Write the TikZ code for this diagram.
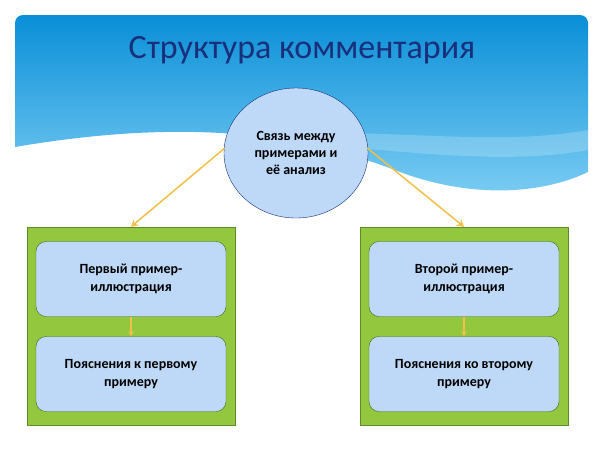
\documentclass[tikz,border=0pt]{standalone}
\usepackage{fontspec}
\setmainfont{Carlito}
\usetikzlibrary{positioning, shapes.geometric, arrows.meta}
\definecolor{bandtop}{HTML}{0A8FD8}
\definecolor{bandlow}{HTML}{7CCDF3}
\definecolor{titleblue}{HTML}{1A2F7A}
\definecolor{paleblue}{HTML}{BDD9F7}
\definecolor{leaf}{HTML}{93C83E}
\definecolor{leafdark}{HTML}{5E8A2A}
\definecolor{amber}{HTML}{F2C04A}

\begin{document}
\begin{tikzpicture}[x=1pt, y=-1pt,
    hub/.style={ellipse, draw=titleblue, fill=paleblue, minimum width=144pt, minimum height=130pt, inner sep=1pt, align=center, font=\bfseries\fontsize{14}{17}\selectfont},
    panel/.style={draw=leafdark, fill=leaf, minimum width=208pt, minimum height=198pt},
    card/.style={draw=leafdark!70!black, fill=paleblue, rounded corners=10pt, minimum width=190pt, minimum height=75pt, align=center, font=\bfseries\fontsize{14}{18}\selectfont},
    link/.style={amber, line width=1.5pt, -{Stealth[length=7pt, width=8pt]}}]

        % page size
        \useasboundingbox (0,0) rectangle (604,453);
        \fill[white] (0,0) rectangle (604,453);

        % header band with the wave
        \shade[top color=bandtop, bottom color=bandlow]
            (15,25) [rounded corners=8pt] -- (15,15) -- (588,15) [sharp corners] -- (588,172)
            .. controls (540,195) and (470,198) .. (400,172)
            .. controls (330,145) and (220,112) .. (15,147) -- cycle;
        \fill[white, opacity=0.2] (200,140) .. controls (350,120) and (480,150) .. (588,130)
            -- (588,150) .. controls (480,170) and (350,140) .. (200,140) -- cycle;

        % title
        \node[text=titleblue, font=\fontsize{34}{36}\selectfont] (title) at (302,50) {Структура комментария};

        % centre ellipse
        \node[hub] (hub) at (296,153) {Связь между\\примерами и\\её анализ};

        % the two panels
        \node[panel] (left) at (131,326) {};
        \node[panel] (right) at (464,326) {};

        \node[card] (l1) at (131,279) {Первый пример-\\иллюстрация};
        \node[card] (l2) at (131,374) {Пояснения к первому\\примеру};
        \node[card] (r1) at (464,279) {Второй пример-\\иллюстрация};
        \node[card] (r2) at (464,374) {Пояснения ко второму\\примеру};

        % connectors
        \draw[link] (hub.west |- 0,148) ++(1,0) coordinate (hl) (hl) -- (left.north);
        \draw[link] (hub.east |- 0,148) ++(-1,0) coordinate (hr) (hr) -- (right.north);
        \draw[link, line width=1.2pt, -{Stealth[length=5pt, width=6pt]}] (l1) -- (l2);
        \draw[link, line width=1.2pt, -{Stealth[length=5pt, width=6pt]}] (r1) -- (r2);
\end{tikzpicture}
\end{document}
